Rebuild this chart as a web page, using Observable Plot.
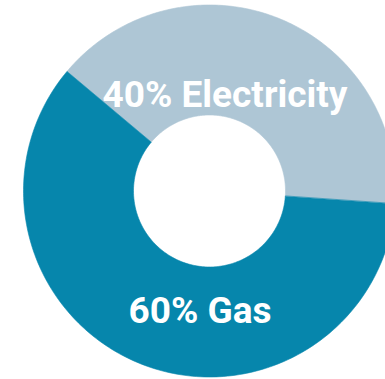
<!DOCTYPE html>
<html>
<head>
<meta charset="utf-8">
<script src="https://cdn.jsdelivr.net/npm/d3@7"></script>
<script src="https://cdn.jsdelivr.net/npm/@observablehq/plot@0.6"></script>
<style>
  html, body { margin: 0; padding: 0; background: #fff; overflow: hidden; }
  #chart svg { display: block; }
</style>
</head>
<body>
<div id="chart"></div>
<script>
// Data
const categories = ["Electricity", "Gas"];
const values = [40, 60];
const labels = ["40% Electricity", "60% Gas"];
const colors = ["#AEC6D5", "#0686AC"];
// label placement (angle in degrees clockwise from north, radius as fraction of outer radius)
const labelAngle = [9.2, 184.5];
const labelRadius = [0.52, 0.65];

// Layout
const W = 385, H = 379;
const cx = 209, cy = 190.5, R = 186, r0 = 76;
const startDeg = -50;

const total = d3.sum(values);
const toXY = (deg, rad) => {
  const a = deg * Math.PI / 180;
  return [cx + rad * Math.sin(a), cy - rad * Math.cos(a)];
};

// Build ring polygons from the data
const ring = [];
let acc = startDeg;
categories.forEach((c, i) => {
  const a0 = acc, a1 = acc + values[i] / total * 360;
  acc = a1;
  const n = 180;
  for (let k = 0; k <= n; k++) {
    const [x, y] = toXY(a0 + (a1 - a0) * k / n, R);
    ring.push({cat: c, x, y});
  }
  for (let k = n; k >= 0; k--) {
    const [x, y] = toXY(a0 + (a1 - a0) * k / n, r0);
    ring.push({cat: c, x, y});
  }
});

const labelData = categories.map((c, i) => {
  const [x, y] = toXY(labelAngle[i], labelRadius[i] * R);
  return {cat: c, text: labels[i], x, y};
});

const chart = Plot.plot({
  width: W,
  height: H,
  margin: 0,
  x: {domain: [0, W], range: [0, W], axis: null},
  y: {domain: [0, H], range: [0, H], axis: null},
  color: {domain: categories, range: colors},
  style: {background: "#fff", fontFamily: "Roboto, sans-serif"},
  marks: [
    Plot.line(ring, {x: "x", y: "y", z: "cat", fill: "cat", stroke: "cat", strokeWidth: 0.6, curve: "linear-closed"}),
    Plot.text(labelData, {x: "x", y: "y", text: "text", fill: "#fff", fontSize: 37, fontWeight: 700, fontFamily: "Roboto", textAnchor: "middle"})
  ]
});
document.getElementById("chart").appendChild(chart);
</script>
</body>
</html>
